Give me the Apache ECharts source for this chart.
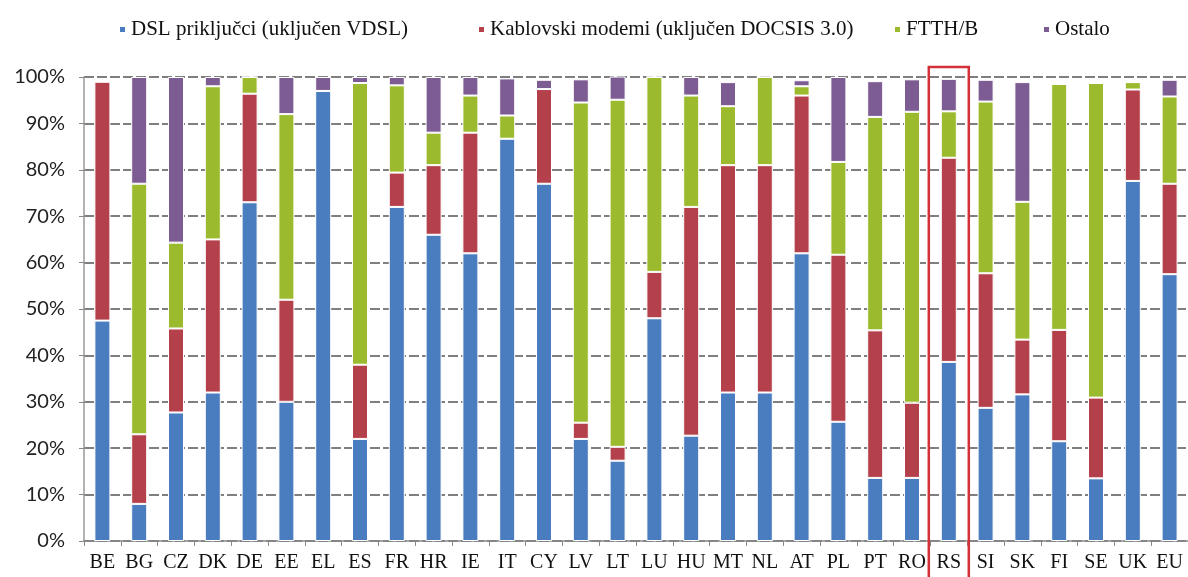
<!DOCTYPE html>
<html>
<head>
<meta charset="utf-8">
<script src="https://cdn.jsdelivr.net/npm/echarts@6/dist/echarts.min.js"></script>
<style>
    html, body { margin: 0; padding: 0; background: #fff; }
    #chart { width: 1188px; height: 577px; }
</style>
</head>
<body>
<div id="chart"></div>
<script>
// zemlje (kategorije)
var countries = ["BE", "BG", "CZ", "DK", "DE", "EE", "EL", "ES", "FR", "HR",
    "IE", "IT", "CY", "LV", "LT", "LU", "HU", "MT", "NL", "AT",
    "PL", "PT", "RO", "RS", "SI", "SK", "FI", "SE", "UK", "EU"];

// udjeli u %
var dsl = [47.5, 8, 27.7, 32, 73, 30, 97, 22, 72, 66,
    62, 86.7, 77, 22, 17.3, 48, 22.7, 32, 32, 62,
    25.7, 13.6, 13.6, 38.6, 28.7, 31.6, 21.5, 13.5, 77.6, 57.5];
var cable = [51.5, 15, 18.1, 33, 23.4, 22, 0, 16, 7.4, 15,
    26, 0, 20.4, 3.5, 3, 10, 49.3, 49, 49, 34,
    36, 31.8, 16.2, 44, 29, 11.8, 24, 17.4, 19.7, 19.5];
var ftth = [0, 54, 18.5, 33, 3.6, 40, 0, 60.7, 18.8, 7,
    8, 5, 0, 69, 74.8, 42, 24, 12.7, 19, 2,
    20, 46, 62.7, 10, 37, 29.7, 53, 67.8, 1.6, 18.8];
var other = [0, 23, 35.7, 2, 0, 8, 3, 1.3, 1.8, 12,
    4, 8, 2, 5, 5, 0, 4, 5.2, 0, 1.3,
    18.3, 7.7, 7, 7, 4.7, 25.8, 0, 0, 0, 3.6];

var seriesNames = ["DSL priključci (uključen VDSL)", "Kablovski modemi (uključen DOCSIS 3.0)", "FTTH/B", "Ostalo"];
var colors = ["#4a7cc0", "#b4404b", "#9bba2e", "#7d5c93"];
var legendLeft = [113, 472, 888, 1037];
var highlighted = "RS";

var chart = echarts.init(document.getElementById("chart"));

function makeSeries(name, data)
{
    return {
        name: name,
        type: "bar",
        stack: "total",
        barWidth: 16,
        data: data,
        itemStyle: { borderColor: "#fff", borderWidth: 1 }
    };
}

// svaka stavka legende posebno, da razmaci budu kao na originalu
var legends = seriesNames.map(function (name, i)
{
    return {
        top: 14,
        left: legendLeft[i],
        icon: "rect",
        itemWidth: 7,
        itemHeight: 7,
        itemGap: 0,
        textStyle: { fontFamily: "Liberation Serif", fontSize: 21, color: "#111" },
        data: [name]
    };
});

var option = {
    animation: false,
    color: colors,
    legend: legends,
    grid: { left: 84, right: 0, top: 77, bottom: 36 },
    xAxis: {
        type: "category",
        data: countries,
        axisLine: { lineStyle: { color: "#888", width: 1.5 } },
        axisTick: { show: true, length: 5, lineStyle: { color: "#888" } },
        axisLabel: { interval: 0, fontFamily: "Liberation Serif", fontSize: 20, color: "#111", margin: 12 }
    },
    yAxis: {
        type: "value",
        min: 0,
        max: 100,
        interval: 10,
        axisLine: { show: true, lineStyle: { color: "#999", width: 1.5 } },
        axisTick: { show: true, length: 5, lineStyle: { color: "#888" } },
        axisLabel: { formatter: "{value}%", fontFamily: "Lato", fontSize: 20, color: "#222", margin: 19 },
        splitLine: { lineStyle: { color: "#555", width: 1.5, type: [10, 3] } }
    },
    series: [
        makeSeries(seriesNames[0], dsl),
        makeSeries(seriesNames[1], cable),
        makeSeries(seriesNames[2], ftth),
        makeSeries(seriesNames[3], other)
    ]
};

chart.setOption(option);

// crveni okvir oko Srbije
var cx = chart.convertToPixel({ xAxisIndex: 0 }, highlighted);
chart.setOption({
    graphic: [{
        type: "rect",
        shape: { x: cx - 20, y: 67, width: 40, height: 520 },
        style: { fill: null, stroke: "#d3303a", lineWidth: 2.5 },
        z: 100
    }]
});
</script>
</body>
</html>
